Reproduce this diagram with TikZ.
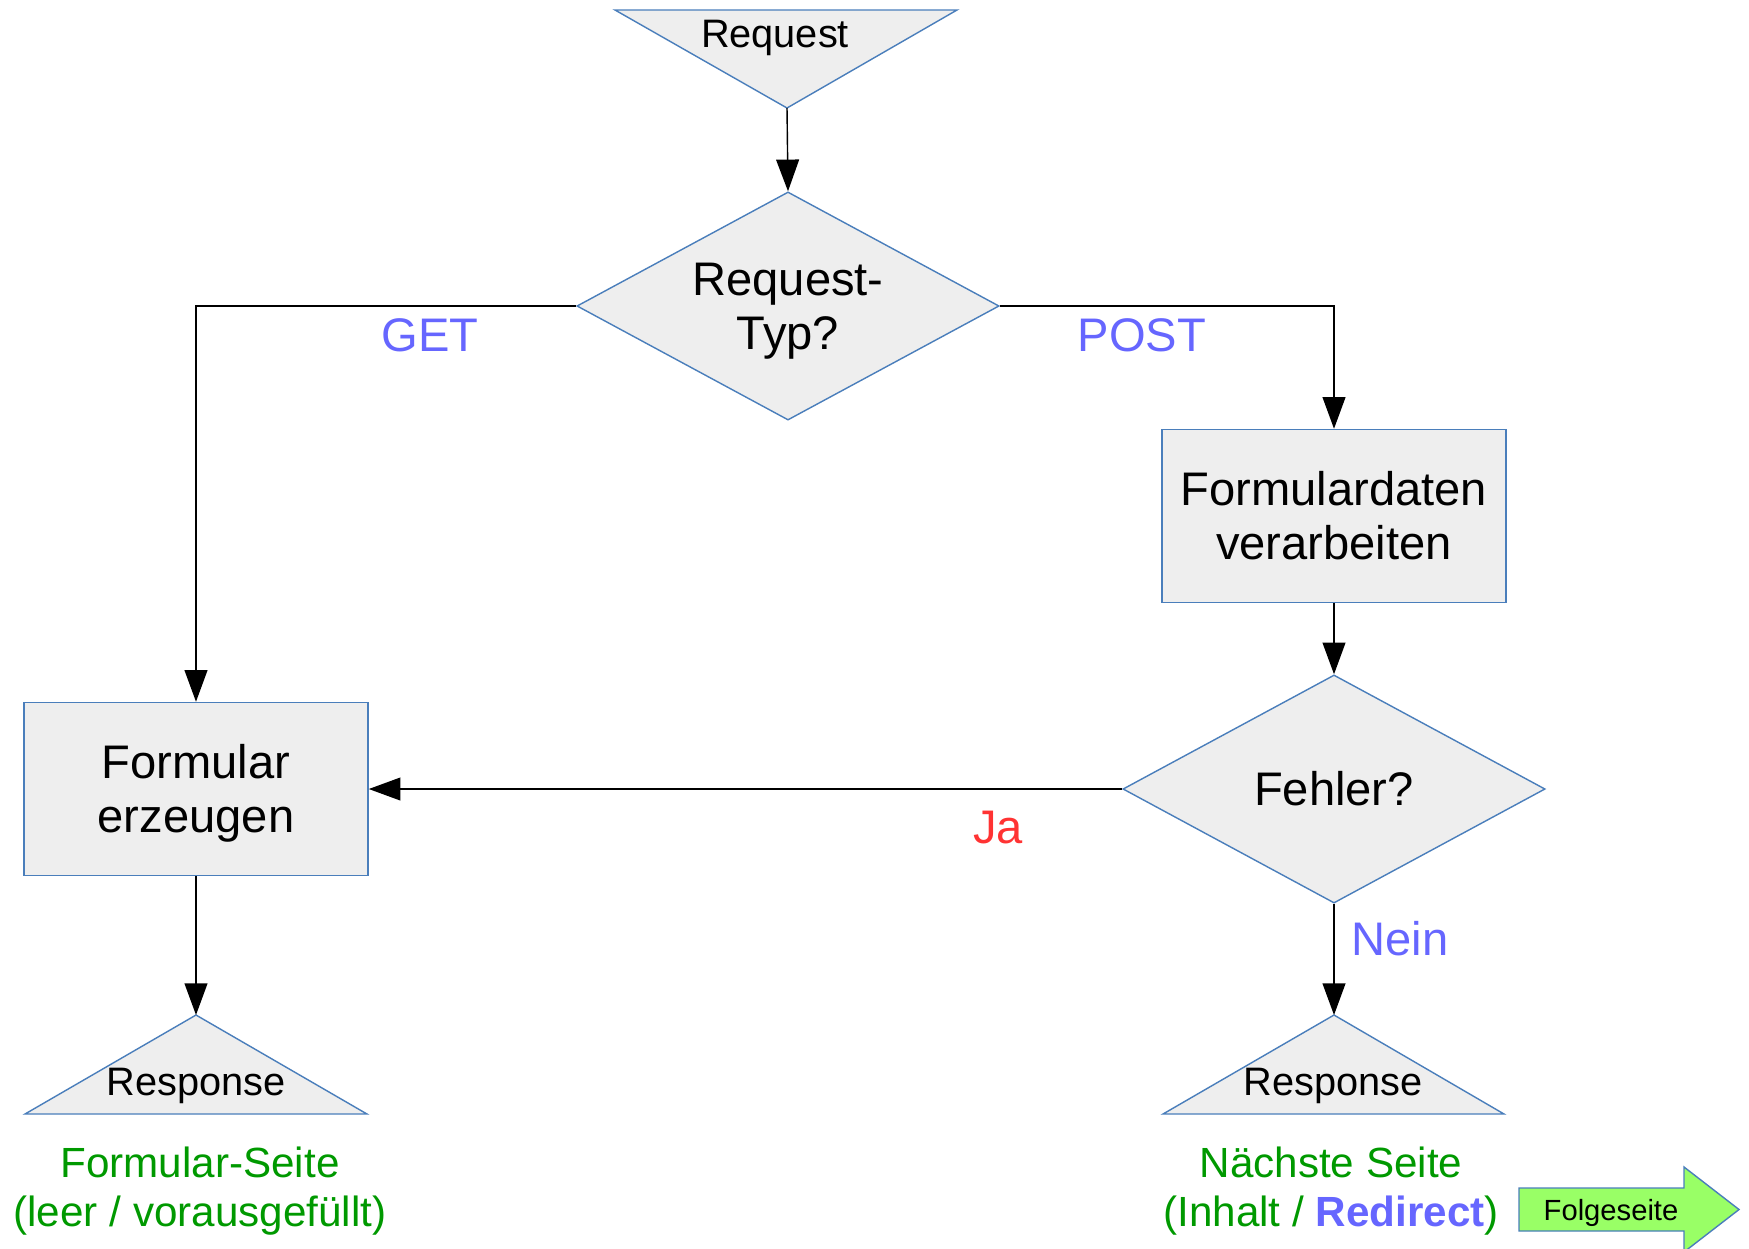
\documentclass[tikz,border=0pt]{standalone}
\usepackage{fontspec}
\setmainfont{Liberation Sans}
\usetikzlibrary{arrows.meta,shapes.geometric}
\definecolor{shapefill}{HTML}{EEEEEE}
\definecolor{shapeline}{HTML}{4A7EBB}
\definecolor{labelblue}{HTML}{6666FF}
\definecolor{labelred}{HTML}{FF3333}
\definecolor{pagegreen}{HTML}{009900}
\definecolor{arrowgreen}{HTML}{99FF66}
\newcommand{\topgap}{\rule{0pt}{12.3pt}}

\begin{document}
\begin{tikzpicture}[x=0.01cm,y=-0.01cm,>={Triangle[length=9pt,width=6.5pt]},line width=0.4pt,
    big/.style={font=\fontsize{13.4}{15.3}\selectfont},
    box node/.style={rectangle,draw=shapeline,fill=shapefill,minimum width=3.44cm,minimum height=1.73cm,align=center,big},
    decision node/.style={diamond,draw=shapeline,fill=shapefill,aspect=1.85,inner sep=0pt,minimum width=4.22cm,minimum height=2.28cm,align=center,big},
    tri/.style={draw=shapeline,fill=shapefill},
    tri text/.style={font=\fontsize{11.3}{13}\selectfont,inner sep=0pt,anchor=base},
    page text/.style={font=\fontsize{12}{13.7}\selectfont,inner sep=0pt,align=center,text=pagegreen},
    answer/.style={big,inner sep=0pt,anchor=base,text=labelblue}]
    \useasboundingbox (0,0) rectangle (1749,1248);

    % request / response markers
    \draw[tri] (615,10) -- (957,10) -- (787,108) coordinate (reqtip) -- cycle;
    \draw[tri] (25,1114) -- (367,1114) -- (196,1015) coordinate (respLtip) -- cycle;
    \draw[tri] (1163,1114) -- (1504,1114) -- (1334,1015) coordinate (respRtip) -- cycle;
    \node[tri text] (req) at (775,47) {Request};
    \node[tri text] (respL) at (196,1095) {Response};
    \node[tri text] (respR) at (1333,1095) {Response};

    \node[decision node] (typ) at (788,306) {\topgap Request-\\Typ?};
    \node[box node] (proc) at (1334,516) {Formulardaten\\verarbeiten};
    \node[decision node] (err) at (1334,789) {Fehler?};
    \node[box node] (form) at (196,789) {\topgap Formular\\erzeugen};

    \draw[->] (typ.west) -| (form.north);
    \draw[->] (typ.east) -| (proc.north);
    \path[->]
    (reqtip) edge (typ.north)
    (proc.south) edge (err.north)
    (err.west) edge (form.east)
    (form.south) edge (respLtip)
    (err.south) edge (respRtip);

    \node[answer] (get) at (430,351) {GET};
    \node[answer] (post) at (1142,351) {POST};
    \node[answer,text=labelred] (ja) at (998,843) {Ja};
    \node[answer] (nein) at (1400,955) {Nein};

    \node[page text] (pageL) at (200,1191) {Formular-Seite\\(leer / vorausgefüllt)};
    \node[page text] (pageR) at (1331,1191) {Nächste Seite\\(Inhalt / {\bfseries\color{labelblue}Redirect})};

    % next page arrow
    \draw[draw=shapeline,fill=arrowgreen] (1519,1188) -- (1684,1188) -- (1684,1167) -- (1739,1209.5)
        -- (1684,1252) -- (1684,1231) -- (1519,1231) -- cycle;
    \node[font=\fontsize{8.3}{10}\selectfont,inner sep=0pt,anchor=base] (next) at (1611,1220) {Folgeseite};
\end{tikzpicture}
\end{document}
